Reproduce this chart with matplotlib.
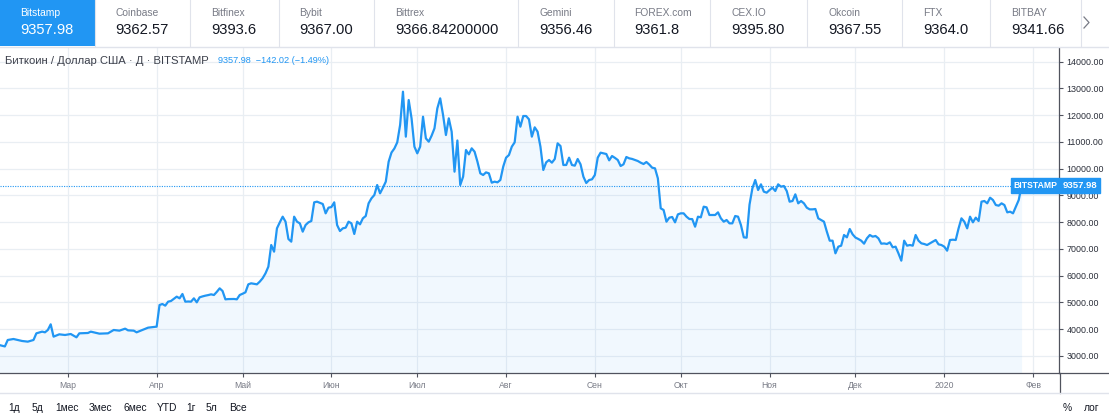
import matplotlib
matplotlib.use("Agg")
import matplotlib.pyplot as plt
import matplotlib.dates as mdates
from matplotlib.ticker import FuncFormatter, FormatStrFormatter
from matplotlib.patches import Rectangle
from matplotlib.lines import Line2D
from matplotlib.transforms import blended_transform_factory
import pandas as pd

plt.rcParams['font.family'] = ['Liberation Sans', 'DejaVu Sans']

# --- data (daily close, BTC/USD Bitstamp) ---
dates = [
    "2019-02-05", "2019-02-07", "2019-02-08", "2019-02-10", "2019-02-13", "2019-02-15", "2019-02-17",
    "2019-02-18", "2019-02-20", "2019-02-21", "2019-02-22", "2019-02-23", "2019-02-24", "2019-02-26",
    "2019-02-28", "2019-03-02", "2019-03-04", "2019-03-05", "2019-03-08", "2019-03-09", "2019-03-12",
    "2019-03-15", "2019-03-17", "2019-03-19", "2019-03-21", "2019-03-22", "2019-03-24", "2019-03-25",
    "2019-03-27", "2019-03-29", "2019-04-01", "2019-04-02", "2019-04-03", "2019-04-04", "2019-04-05",
    "2019-04-06", "2019-04-07", "2019-04-08", "2019-04-09", "2019-04-10", "2019-04-11", "2019-04-12",
    "2019-04-13", "2019-04-14", "2019-04-15", "2019-04-16", "2019-04-17", "2019-04-18", "2019-04-19",
    "2019-04-20", "2019-04-21", "2019-04-22", "2019-04-23", "2019-04-24", "2019-04-25", "2019-04-26",
    "2019-04-28", "2019-04-29", "2019-04-30", "2019-05-01", "2019-05-02", "2019-05-03", "2019-05-04",
    "2019-05-05", "2019-05-06", "2019-05-07", "2019-05-08", "2019-05-09", "2019-05-10", "2019-05-11",
    "2019-05-12", "2019-05-13", "2019-05-14", "2019-05-15", "2019-05-16", "2019-05-17", "2019-05-18",
    "2019-05-19", "2019-05-20", "2019-05-21", "2019-05-22", "2019-05-23", "2019-05-24", "2019-05-25",
    "2019-05-26", "2019-05-27", "2019-05-28", "2019-05-29", "2019-05-30", "2019-05-31", "2019-06-01",
    "2019-06-02", "2019-06-03", "2019-06-04", "2019-06-05", "2019-06-06", "2019-06-07", "2019-06-08",
    "2019-06-09", "2019-06-10", "2019-06-11", "2019-06-12", "2019-06-13", "2019-06-14", "2019-06-15",
    "2019-06-16", "2019-06-17", "2019-06-18", "2019-06-19", "2019-06-20", "2019-06-21", "2019-06-22",
    "2019-06-23", "2019-06-24", "2019-06-25", "2019-06-26", "2019-06-27", "2019-06-28", "2019-06-29",
    "2019-06-30", "2019-07-01", "2019-07-02", "2019-07-03", "2019-07-04", "2019-07-05", "2019-07-06",
    "2019-07-07", "2019-07-08", "2019-07-09", "2019-07-10", "2019-07-11", "2019-07-12", "2019-07-13",
    "2019-07-14", "2019-07-15", "2019-07-16", "2019-07-17", "2019-07-18", "2019-07-19", "2019-07-20",
    "2019-07-21", "2019-07-22", "2019-07-23", "2019-07-24", "2019-07-25", "2019-07-26", "2019-07-27",
    "2019-07-28", "2019-07-29", "2019-07-30", "2019-07-31", "2019-08-01", "2019-08-02", "2019-08-03",
    "2019-08-04", "2019-08-05", "2019-08-06", "2019-08-07", "2019-08-08", "2019-08-09", "2019-08-10",
    "2019-08-11", "2019-08-12", "2019-08-13", "2019-08-14", "2019-08-15", "2019-08-16", "2019-08-17",
    "2019-08-18", "2019-08-19", "2019-08-20", "2019-08-21", "2019-08-22", "2019-08-23", "2019-08-24",
    "2019-08-25", "2019-08-26", "2019-08-27", "2019-08-28", "2019-08-29", "2019-08-30", "2019-08-31",
    "2019-09-01", "2019-09-02", "2019-09-03", "2019-09-04", "2019-09-05", "2019-09-06", "2019-09-07",
    "2019-09-08", "2019-09-09", "2019-09-10", "2019-09-11", "2019-09-12", "2019-09-13", "2019-09-14",
    "2019-09-15", "2019-09-16", "2019-09-17", "2019-09-18", "2019-09-19", "2019-09-20", "2019-09-21",
    "2019-09-22", "2019-09-23", "2019-09-24", "2019-09-25", "2019-09-26", "2019-09-27", "2019-09-28",
    "2019-09-29", "2019-09-30", "2019-10-01", "2019-10-02", "2019-10-03", "2019-10-04", "2019-10-05",
    "2019-10-06", "2019-10-07", "2019-10-08", "2019-10-09", "2019-10-10", "2019-10-11", "2019-10-12",
    "2019-10-13", "2019-10-14", "2019-10-15", "2019-10-16", "2019-10-17", "2019-10-18", "2019-10-19",
    "2019-10-20", "2019-10-21", "2019-10-22", "2019-10-23", "2019-10-24", "2019-10-25", "2019-10-26",
    "2019-10-27", "2019-10-28", "2019-10-29", "2019-10-30", "2019-10-31", "2019-11-01", "2019-11-02",
    "2019-11-03", "2019-11-04", "2019-11-05", "2019-11-06", "2019-11-07", "2019-11-08", "2019-11-09",
    "2019-11-10", "2019-11-11", "2019-11-12", "2019-11-13", "2019-11-14", "2019-11-15", "2019-11-16",
    "2019-11-17", "2019-11-18", "2019-11-19", "2019-11-20", "2019-11-21", "2019-11-22", "2019-11-23",
    "2019-11-24", "2019-11-25", "2019-11-26", "2019-11-27", "2019-11-28", "2019-11-29", "2019-11-30",
    "2019-12-01", "2019-12-02", "2019-12-03", "2019-12-04", "2019-12-05", "2019-12-06", "2019-12-07",
    "2019-12-08", "2019-12-09", "2019-12-10", "2019-12-11", "2019-12-12", "2019-12-13", "2019-12-14",
    "2019-12-15", "2019-12-16", "2019-12-17", "2019-12-18", "2019-12-19", "2019-12-20", "2019-12-21",
    "2019-12-22", "2019-12-23", "2019-12-24", "2019-12-25", "2019-12-26", "2019-12-27", "2019-12-28",
    "2019-12-29", "2019-12-30", "2019-12-31", "2020-01-01", "2020-01-02", "2020-01-03", "2020-01-04",
    "2020-01-05", "2020-01-06", "2020-01-07", "2020-01-08", "2020-01-09", "2020-01-10", "2020-01-11",
    "2020-01-12", "2020-01-13", "2020-01-14", "2020-01-15", "2020-01-16", "2020-01-17", "2020-01-18",
    "2020-01-19", "2020-01-20", "2020-01-21", "2020-01-22", "2020-01-23", "2020-01-24", "2020-01-25",
    "2020-01-26", "2020-01-27", "2020-01-28",
]
close = [
    3404, 3350, 3591, 3628, 3554, 3529, 3591,
    3840, 3903, 3878, 3965, 4177, 3716, 3803,
    3778, 3815, 3691, 3840, 3853, 3903, 3828,
    3840, 3965, 3940, 4015, 3952, 3940, 3878,
    3965, 4052, 4090, 4899, 4937, 4875, 5024,
    5049, 5130, 5211, 5149, 5311, 5024, 5030,
    5024, 5149, 4999, 5186, 5220, 5248, 5270,
    5298, 5273, 5390, 5522, 5423, 5111, 5120,
    5124, 5111, 5273, 5320, 5373, 5672, 5710,
    5690, 5672, 5772, 5900, 6083, 6332, 7142,
    6893, 7765, 7990, 8201, 8014, 7367, 7267,
    8201, 8014, 7952, 7641, 7890, 7990, 8039,
    8737, 8762, 8720, 8675, 8326, 8538, 8560,
    8737, 7890, 7665, 7765, 7790, 8014, 7952,
    7554, 8014, 7915, 8139, 8226, 8700, 8887,
    9011, 9385, 9074, 9285, 9510, 10257, 10600,
    10750, 10980, 11628, 12874, 11192, 12562, 11877,
    10818, 10569, 10818, 11939, 11129, 11005, 11229,
    11503, 12251, 12625, 12002, 11254, 11877, 11379,
    9883, 11050, 9385, 9697, 10693, 10531, 10756,
    10631, 10257, 9821, 9759, 9858, 9821, 9472,
    9510, 9485, 9572, 10070, 10407, 10506, 10818,
    10980, 11939, 11565, 11964, 11964, 11840, 11192,
    11541, 11379, 10818, 9946, 10232, 10320, 10220,
    10357, 10943, 10843, 10133, 10133, 10407, 10133,
    10108, 10357, 10158, 9697, 9460, 9572, 9597,
    9759, 10407, 10594, 10569, 10544, 10307, 10469,
    10400, 10320, 10095, 10158, 10432, 10382, 10360,
    10320, 10282, 10220, 10170, 10245, 10150, 10033,
    10008, 9634, 8513, 8451, 8014, 8164, 8189,
    7990, 8288, 8326, 8326, 8201, 8114, 8110,
    7827, 8201, 8176, 8575, 8550, 8264, 8264,
    8264, 8363, 8139, 8014, 8077, 7952, 7952,
    8226, 8201, 7890, 7429, 7416, 8650, 9260,
    9572, 9198, 9410, 9136, 9099, 9198, 9285,
    9161, 9410, 9323, 9348, 9161, 8762, 8787,
    9036, 8700, 8787, 8700, 8538, 8475, 8475,
    8488, 8139, 8077, 8014, 7641, 7304, 7304,
    6831, 7080, 7117, 7516, 7429, 7740, 7541,
    7420, 7367, 7304, 7192, 7392, 7516, 7454,
    7479, 7392, 7192, 7200, 7180, 7242, 7055,
    7080, 6831, 6557, 7304, 7117, 7142, 7117,
    7516, 7304, 7205, 7180, 7142, 7205, 7270,
    7329, 7167, 7142, 7080, 6930, 7329, 7340,
    7329, 7765, 8139, 8014, 7765, 8201, 7990,
    8164, 8039, 8762, 8787, 8700, 8911, 8824,
    8637, 8612, 8700, 8637, 8363, 8388, 8326,
    8575, 8824, 9357.98,
]
last_price = 9357.98
change = -142.02
change_pct = -1.49

exchanges = ["Bitstamp", "Coinbase", "Bitfinex", "Bybit", "Bittrex", "Gemini",
             "FOREX.com", "CEX.IO", "Okcoin", "FTX", "BITBAY"]
exch_prices = ["9357.98", "9362.57", "9393.6", "9367.00", "9366.84200000", "9356.46",
               "9361.8", "9395.80", "9367.55", "9364.0", "9341.66"]
month_names = ["Янв", "Фев", "Мар", "Апр", "Май", "Июн", "Июл", "Авг", "Сен", "Окт", "Ноя", "Дек"]
ranges = ["1д", "5д", "1мес", "3мес", "6мес", "YTD", "1г", "5л", "Все"]
price_ticks = list(range(3000, 15000, 1000))

# --- layout ---
W, H = 1109, 419
BLUE = "#2196F3"
GRID = "#e9eef3"
AXC = "#50535e"
TXT = "#131722"
GRAY = "#787b86"


def fx(x):
    return x / W


def fy(y):
    return 1 - y / H


fig = plt.figure(figsize=(W / 100, H / 100), dpi=100)

# header with exchange tabs
tab_edges = [0, 94.6, 190, 278.6, 374, 518, 613.5, 710, 807, 902, 990, 1081]
fig.patches.append(Rectangle((0, fy(46.5)), fx(94.6), 46.5 / H, transform=fig.transFigure,
                             facecolor=BLUE, edgecolor="none", zorder=0))
for i, (name, pr) in enumerate(zip(exchanges, exch_prices)):
    x0 = tab_edges[i] + 21 if i else 20
    c1 = "white" if i == 0 else GRAY
    c2 = "white" if i == 0 else TXT
    fig.text(fx(x0), fy(13.5), name, fontsize=7.4, color=c1, va="center", ha="left")
    fig.text(fx(x0), fy(29.5), pr, fontsize=10.6, color=c2, va="center", ha="left")
for xe in tab_edges[1:]:
    fig.add_artist(Line2D([fx(xe), fx(xe)], [fy(0), fy(46.5)], transform=fig.transFigure,
                          color="#e0e3eb", lw=0.8))
fig.add_artist(Line2D([0, 1], [fy(46.8), fy(46.8)], transform=fig.transFigure, color="#e0e3eb", lw=1))
fig.add_artist(Line2D([fx(1084), fx(1089), fx(1084)], [fy(17), fy(22.5), fy(28)],
                      transform=fig.transFigure, color=GRAY, lw=0.9))

# main chart
ax = fig.add_axes([0, fy(373), fx(1059), (373 - 48) / H])
t = pd.to_datetime(dates)
ybot, ytop = 2357, 14507
ax.fill_between(t, close, ybot, color=BLUE, alpha=0.06, lw=0, zorder=1)
ax.plot(t, close, color=BLUE, lw=1.6, zorder=3, solid_joinstyle="round")
ax.axhline(last_price, color=BLUE, lw=0.8, ls=(0, (1, 1.2)), zorder=2)

mar1 = mdates.date2num(pd.Timestamp("2019-03-01"))
ax.set_xlim(mar1 - 23.7, mar1 + 346.06)
ax.set_ylim(ybot, ytop)

ax.set_yticks(price_ticks)
ax.yaxis.tick_right()
ax.yaxis.set_major_formatter(FormatStrFormatter("%.2f"))
ax.xaxis.set_major_locator(mdates.MonthLocator())


def month_label(v, pos):
    d = mdates.num2date(v)
    return str(d.year) if d.month == 1 else month_names[d.month - 1]


ax.xaxis.set_major_formatter(FuncFormatter(month_label))
ax.tick_params(axis="y", length=3, width=0.8, color=AXC, pad=2.5, labelsize=6.4, labelcolor="#2a2e39")
ax.tick_params(axis="x", length=3, width=0.8, color=AXC, pad=2.5, labelsize=6.2, labelcolor=GRAY)
ax.grid(True, color=GRID, lw=0.9, zorder=0)
ax.set_axisbelow(True)
for s in ("top", "left"):
    ax.spines[s].set_visible(False)
for s in ("bottom", "right"):
    ax.spines[s].set_color(AXC)
    ax.spines[s].set_linewidth(0.9)

# axis lines extended past the plot
fig.add_artist(Line2D([fx(1059), 1], [fy(373), fy(373)], transform=fig.transFigure, color=AXC, lw=0.9))
fig.add_artist(Line2D([fx(1059.5), fx(1059.5)], [fy(373), fy(393)], transform=fig.transFigure,
                      color=AXC, lw=0.9))
fig.add_artist(Line2D([0, 1], [fy(393), fy(393)], transform=fig.transFigure, color="#e0e3eb", lw=1))

# price label on the axis
tr = blended_transform_factory(ax.transAxes, ax.transData)
ax.text(0.9985, last_price, "BITSTAMP", transform=tr, ha="right", va="center", fontsize=6.2,
        color="white", clip_on=False, zorder=5, fontweight="bold",
        bbox=dict(boxstyle="square,pad=0.33", fc=BLUE, ec=BLUE))
ax.text(1.0035, last_price, f"{last_price:.2f}", transform=tr, ha="left", va="center", fontsize=6.8,
        color="white", clip_on=False, zorder=5, fontweight="bold",
        bbox=dict(boxstyle="square,pad=0.33", fc=BLUE, ec=BLUE))

# legend line
fig.text(fx(5), fy(60.5), "Биткоин / Доллар США · Д · BITSTAMP", fontsize=8.1, color="#3b3f4a",
         va="center", ha="left")
fig.text(fx(218), fy(60.5), f"{last_price:.2f}  \u2212{abs(change):.2f} (\u2212{abs(change_pct):.2f}%)",
         fontsize=6.6, color=BLUE, va="center", ha="left")

# bottom toolbar
range_x = [8, 32, 55, 89, 123, 157, 186, 206, 229]
for r, xr in zip(ranges, range_x):
    fig.text(fx(xr), fy(408), r, fontsize=7.4, color=TXT, va="center", ha="left")
fig.text(fx(1063), fy(408), "%", fontsize=7.4, color=TXT, va="center", ha="left")
fig.text(fx(1084), fy(408), "лог", fontsize=7.4, color=TXT, va="center", ha="left")

fig.savefig("out.png", dpi=100)
